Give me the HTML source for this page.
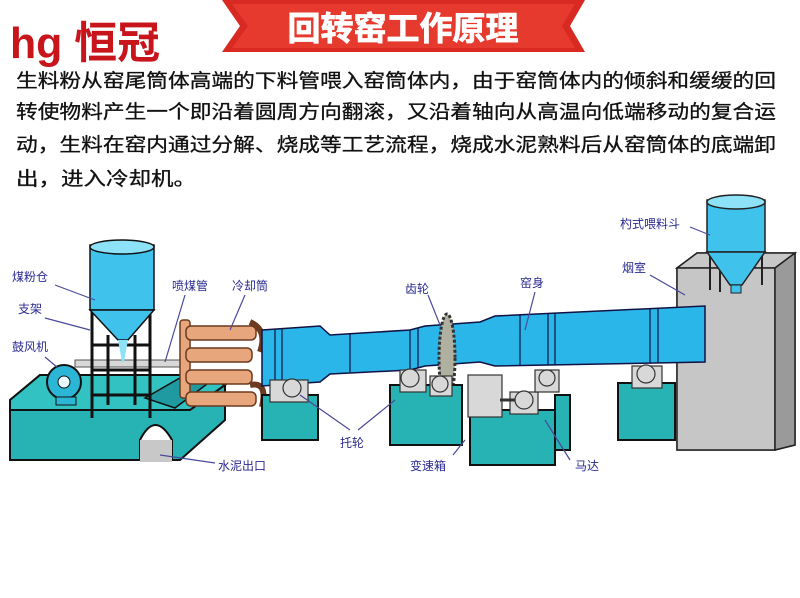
<!DOCTYPE html>
<html><head><meta charset="utf-8"><style>
body{margin:0;width:800px;height:593px;background:#fff;overflow:hidden;font-family:"Liberation Sans","Noto Sans CJK SC",sans-serif}
</style></head><body>
<svg width="800" height="593" viewBox="0 0 800 593" xmlns="http://www.w3.org/2000/svg" font-family="Liberation Sans, Noto Sans CJK SC, sans-serif">
<text x="10" y="58" font-size="44" font-weight="bold" fill="#c8141b" textLength="150" lengthAdjust="spacingAndGlyphs">hg 恒冠</text>
<polygon points="222,0 585,0 570,26 585,52 222,52 240,26" fill="#d82a22"/>
<polygon points="232,4 575,4 562,26 575,48 232,48 248,26" fill="#e63a2e"/>
<text x="403" y="40" font-size="33" font-weight="bold" fill="#fff" text-anchor="middle" stroke="#fff" stroke-width="0.8">回转窑工作原理</text>
<g font-size="19" fill="#111" stroke="#111" stroke-width="0.3">
<text x="16" y="87" textLength="760" lengthAdjust="spacingAndGlyphs">生料粉从窑尾筒体高端的下料管喂入窑筒体内，由于窑筒体内的倾斜和缓缓的回</text>
<text x="16" y="118" textLength="760" lengthAdjust="spacingAndGlyphs">转使物料产生一个即沿着圆周方向翻滚，又沿着轴向从高温向低端移动的复合运</text>
<text x="16" y="151" textLength="760" lengthAdjust="spacingAndGlyphs">动，生料在窑内通过分解、烧成等工艺流程，烧成水泥熟料后从窑筒体的底端卸</text>
<text x="16" y="185" textLength="180" lengthAdjust="spacingAndGlyphs">出，进入冷却机。</text>
</g>
<polygon points="677,268 697,253 795,253 795,445 775,450 677,450" fill="#a9a9a9" stroke="#222" stroke-width="1.5"/>
<polygon points="677,268 697,253 795,253 775,268" fill="#c8c8c8" stroke="#222" stroke-width="1.5"/>
<rect x="677" y="268" width="98" height="182" fill="#c6c6c6" stroke="#222" stroke-width="1.5"/>
<polygon points="775,268 795,253 795,445 775,450" fill="#9a9a9a" stroke="#222" stroke-width="1.5"/>
<g stroke="#222" stroke-width="2">
<line x1="710" y1="250" x2="710" y2="290"/><line x1="762" y1="250" x2="762" y2="285"/>
<line x1="720" y1="255" x2="720" y2="292"/>
</g>
<rect x="707" y="200" width="58" height="52" fill="#3fc3ec" stroke="#222" stroke-width="1.5"/>
<ellipse cx="736" cy="202" rx="29" ry="7" fill="#8ee2f8" stroke="#222" stroke-width="1.5"/>
<polygon points="707,252 765,252 742,285 730,285" fill="#3fc3ec" stroke="#222" stroke-width="1.5"/>
<rect x="731" y="285" width="10" height="8" fill="#3fc3ec" stroke="#222"/>
<polygon points="10,400 40,375 200,375 225,385 225,420 180,460 10,460" fill="#27b3b3" stroke="#111" stroke-width="2"/>
<polygon points="10,400 40,375 200,375 225,385 190,410 10,410" fill="#33c2c2" stroke="#111" stroke-width="2"/>
<polygon points="145,398 185,375 215,378 175,408" fill="#1f9aa0" stroke="#111" stroke-width="1.5"/>
<path d="M140,460 L140,440 Q155,410 172,440 L172,460 Z" fill="#fff" stroke="#111" stroke-width="2"/>
<rect x="140" y="440" width="32" height="22" fill="#c8c8c8"/>
<circle cx="64" cy="382" r="17" fill="#2bb6d6" stroke="#111" stroke-width="2"/>
<circle cx="64" cy="382" r="6" fill="#e8f8ff" stroke="#111"/>
<rect x="56" y="397" width="20" height="8" fill="#2bb6d6" stroke="#111"/>
<rect x="75" y="360" width="110" height="7" fill="#d8d8d8" stroke="#555"/>
<g stroke="#111" stroke-width="3" fill="none">
<line x1="92" y1="310" x2="92" y2="418"/><line x1="150" y1="310" x2="150" y2="418"/>
<line x1="108" y1="335" x2="108" y2="405"/><line x1="135" y1="335" x2="135" y2="405"/>
<line x1="92" y1="345" x2="150" y2="345"/><line x1="92" y1="370" x2="150" y2="370"/><line x1="92" y1="395" x2="150" y2="395"/>
</g>
<rect x="90" y="245" width="64" height="65" fill="#3fc3ec" stroke="#111" stroke-width="1.5"/>
<ellipse cx="122" cy="247" rx="32" ry="7" fill="#8ee2f8" stroke="#111" stroke-width="1.5"/>
<polygon points="90,310 154,310 128,340 118,340" fill="#3fc3ec" stroke="#111" stroke-width="1.5"/>
<polygon points="118,340 128,340 124,362 122,362" fill="#8ee2f8"/>
<g stroke="#6b3a20" stroke-width="1.5" fill="#e8a67c">
<rect x="180" y="320" width="10" height="78" rx="3"/>
<rect x="186" y="326" width="70" height="14" rx="5"/>
<rect x="186" y="348" width="66" height="14" rx="5"/>
<rect x="186" y="370" width="66" height="14" rx="5"/>
<rect x="186" y="392" width="70" height="14" rx="5"/>
<path d="M250,322 q18,8 10,30" fill="none" stroke-width="6"/>
<path d="M250,385 q18,-4 12,22" fill="none" stroke-width="6"/>
</g>
<path d="M262,330 L320,326 L330,335 L410,330 L425,326 L480,322 L495,316 L705,306 L705,362 L495,366 L480,362 L425,366 L410,370 L330,374 L320,382 L262,386 Z" fill="#2bb6ea" stroke="#114" stroke-width="1.5"/>
<g stroke="#114" stroke-width="1.2" fill="none">
<line x1="275" y1="330" x2="275" y2="385"/><line x1="282" y1="329" x2="282" y2="384"/>
<line x1="350" y1="333" x2="350" y2="372"/><line x1="410" y1="330" x2="410" y2="370"/><line x1="418" y1="328" x2="418" y2="368"/>
<line x1="520" y1="315" x2="520" y2="366"/><line x1="548" y1="314" x2="548" y2="365"/><line x1="555" y1="313" x2="555" y2="365"/>
<line x1="650" y1="309" x2="650" y2="363"/><line x1="658" y1="308" x2="658" y2="363"/>
</g>
<ellipse cx="447" cy="358" rx="8" ry="44" fill="#b0b0a0" stroke="#333" stroke-width="3" stroke-dasharray="3 2"/>
<g stroke="#111" stroke-width="2">
<rect x="262" y="395" width="56" height="45" fill="#27b3b3"/>
<rect x="390" y="385" width="72" height="60" fill="#27b3b3"/>
<rect x="470" y="410" width="85" height="55" fill="#27b3b3"/>
<rect x="555" y="395" width="15" height="55" fill="#27b3b3"/>
<rect x="618" y="383" width="57" height="57" fill="#27b3b3"/>
</g>
<g fill="#d8d8d8" stroke="#333" stroke-width="1.2">
<rect x="270" y="380" width="38" height="22"/><circle cx="292" cy="388" r="9"/>
<rect x="400" y="370" width="26" height="22"/><circle cx="410" cy="378" r="9"/>
<rect x="430" y="376" width="22" height="20"/><circle cx="440" cy="384" r="8"/>
<rect x="468" y="375" width="34" height="42"/>
<rect x="510" y="392" width="28" height="22"/><circle cx="524" cy="400" r="9"/>
<rect x="535" y="370" width="24" height="22"/><circle cx="547" cy="378" r="8"/>
<rect x="632" y="366" width="30" height="22"/><circle cx="646" cy="374" r="9"/>
</g>
<line x1="500" y1="400" x2="515" y2="400" stroke="#333" stroke-width="3"/>
<g stroke="#4a4a9a" stroke-width="1.2" fill="none">
<line x1="55" y1="285" x2="95" y2="300"/><line x1="45" y1="318" x2="90" y2="330"/><line x1="45" y1="357" x2="58" y2="368"/>
<line x1="185" y1="295" x2="165" y2="362"/><line x1="245" y1="295" x2="230" y2="330"/>
<line x1="428" y1="295" x2="440" y2="325"/><line x1="535" y1="292" x2="525" y2="330"/>
<line x1="690" y1="227" x2="710" y2="235"/><line x1="650" y1="275" x2="685" y2="295"/>
<line x1="350" y1="430" x2="300" y2="395"/><line x1="358" y1="430" x2="395" y2="400"/>
<line x1="215" y1="463" x2="160" y2="455"/><line x1="453" y1="455" x2="465" y2="440"/><line x1="570" y1="460" x2="545" y2="420"/>
</g>
<g font-size="12" fill="#2a2a90">
<text x="12" y="281">煤粉仓</text><text x="18" y="313">支架</text><text x="12" y="351">鼓风机</text>
<text x="172" y="290">喷煤管</text><text x="232" y="290">冷却筒</text>
<text x="405" y="293">齿轮</text><text x="520" y="287">窑身</text>
<text x="620" y="228">杓式喂料斗</text><text x="622" y="272">烟室</text>
<text x="340" y="447">托轮</text><text x="218" y="470">水泥出口</text>
<text x="410" y="470">变速箱</text><text x="575" y="470">马达</text>
</g>
</svg>
</body></html>
